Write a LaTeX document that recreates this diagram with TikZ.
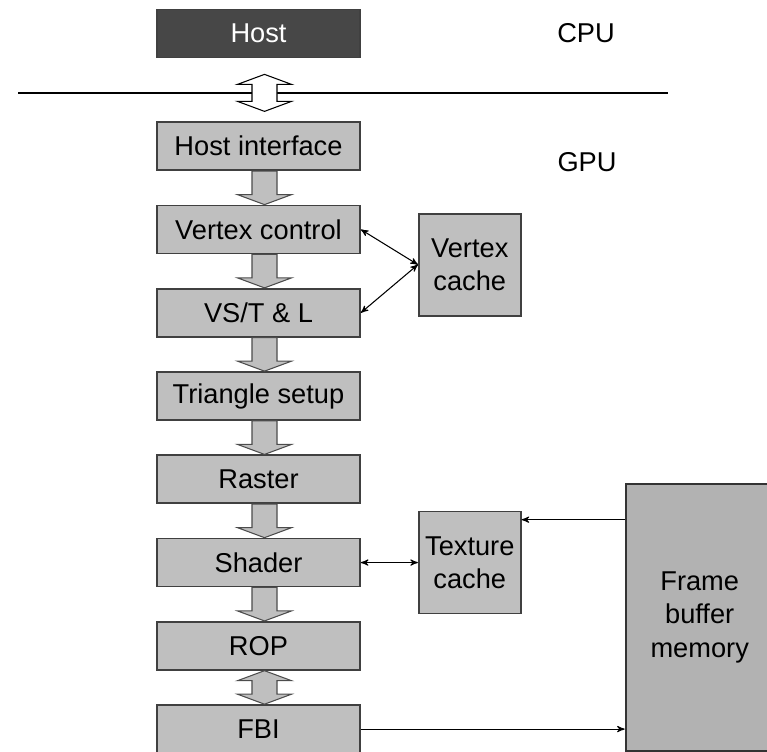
\documentclass[tikz,border=0pt]{standalone}
\usepackage{fontspec}
\setmainfont{Liberation Sans}
\usetikzlibrary{shapes, arrows, positioning, calc}

% block arrow between two stacked boxes
\newcommand{\flowarrow}[2]{%
  \path [blockarrow] let \p1 = ($(#1.south)+(0.12,0)$), \p2 = ($(#2.north)+(0.12,0)$) in
  (\x1-0.25cm,\y1) -- (\x1+0.25cm,\y1) -- (\x1+0.25cm,\y2+0.2cm) -- (\x1+0.54cm,\y2+0.2cm)
  -- (\x1,\y2) -- (\x1-0.54cm,\y2+0.2cm) -- (\x1-0.25cm,\y2+0.2cm) -- cycle;}
% double block arrow, #4 and #5 are the gaps to the boxes
\newcommand{\dflowarrow}[5]{%
  \path [#1] let \p1 = ($(#2.south)+(0.12,-#4)$), \p2 = ($(#3.north)+(0.12,#5)$) in
  (\x1,\y1) -- (\x1+0.54cm,\y1-0.2cm) -- (\x1+0.25cm,\y1-0.2cm) -- (\x1+0.25cm,\y2+0.2cm)
  -- (\x1+0.54cm,\y2+0.2cm) -- (\x1,\y2) -- (\x1-0.54cm,\y2+0.2cm) -- (\x1-0.25cm,\y2+0.2cm)
  -- (\x1-0.25cm,\y1-0.2cm) -- (\x1-0.54cm,\y1-0.2cm) -- cycle;}

\begin{document}
\begin{tikzpicture}
  [
  font = \fontsize{15.5}{19}\selectfont,
  % stage boxes
  block/.style = {rectangle, draw = black!75, line width = 1pt, fill = black!25,
    minimum width = 4.06cm, minimum height = 0.96cm, inner sep = 0pt},
  % caches
  cache/.style = {rectangle, draw = black!75, line width = 1pt, fill = black!25,
    minimum width = 2.04cm, minimum height = 2.04cm, align = center, inner sep = 0pt},
  memory/.style = {rectangle, draw = black!80, line width = 1.2pt, fill = black!30,
    minimum width = 2.96cm, minimum height = 5.34cm, align = center, inner sep = 0pt},
  blockarrow/.style = {draw = black!70, line width = 0.6pt, fill = black!25},
  busarrow/.style = {draw = black, line width = 0.6pt, fill = white},
  % line
  line/.style = {draw, -stealth', line width = 0.6pt},
  dline/.style = {draw, stealth'-stealth', line width = 0.6pt},
  node distance = 0.67cm,
  ]
  \useasboundingbox (0,0) rectangle (15.34,-15.02);

  % nodes
  \node [block, fill = black!72, text = white] (host) at (5.17,-0.67) {Host};
  \node [block, below = 1.26cm of host] (hif) {Host interface};
  \node [block, below = of hif] (vctrl) {Vertex control};
  \node [block, below = of vctrl] (vst) {VS/T \& L};
  \node [block, below = of vst] (tri) {Triangle setup};
  \node [block, below = of tri] (raster) {Raster};
  \node [block, below = of raster] (shader) {Shader};
  \node [block, below = of shader] (rop) {ROP};
  \node [block, below = of rop] (fbi) {FBI};

  \node [cache, anchor = west] (vcache) at ($(vctrl.east)!0.5!(vst.east)+(1.14,0.13)$) {Vertex\\cache};
  \node [cache, right = 1.14cm of shader] (tcache) {Texture\\cache};
  \node [memory, anchor = north west] (fbm) at ($(tcache.north east)+(2.06,0.56)$) {Frame\\buffer\\memory};

  \node (cpu) at (11.72,-0.66) {CPU};
  \node (gpu) at (11.74,-3.24) {GPU};

  % bus line
  \coordinate (busl) at (0.36,-1.86);
  \coordinate (busr) at (13.36,-1.86);
  \draw [line width = 1.3pt] (busl) -- (busr);

  % block arrows
  \dflowarrow{busarrow}{host}{hif}{0.32}{0.2}
  \flowarrow{hif}{vctrl}
  \flowarrow{vctrl}{vst}
  \flowarrow{vst}{tri}
  \flowarrow{tri}{raster}
  \flowarrow{raster}{shader}
  \flowarrow{shader}{rop}
  \dflowarrow{blockarrow}{rop}{fbi}{0}{0}

  % path
  \path [dline] (vctrl.east) -- (vcache.west);
  \path [dline] (vst.east) -- (vcache.west);
  \path [dline] (shader) -- (tcache);
  \coordinate (tin) at ($(tcache.north east)+(0,-0.18)$);
  \path [line] (tin -| fbm.west) -- (tin);
  \path [line] (fbi.east) -- (fbi.east -| fbm.west);

\end{tikzpicture}
\end{document}
